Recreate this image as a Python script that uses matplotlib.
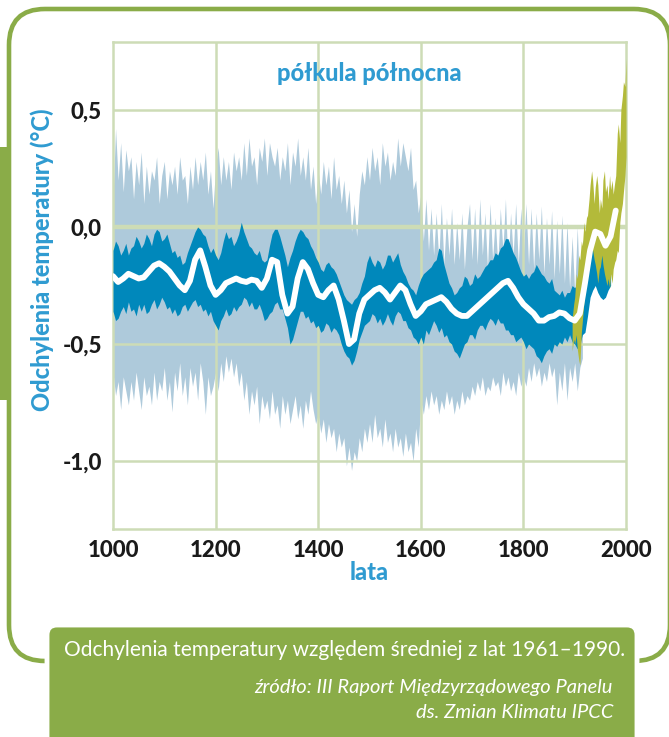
import numpy as np
import matplotlib
matplotlib.use("Agg")
import matplotlib.pyplot as plt
from matplotlib.patches import FancyBboxPatch, Rectangle

plt.rcParams['font.family'] = ['Lato', 'DejaVu Sans']

# ---- data ----
light_years = np.arange(1000, 1920, 5)
light_hi = [
    0.12, 0.42, 0.20, 0.36, 0.15, 0.33, 0.24, 0.30, 0.12, 0.28, 0.18, 0.32, 0.10, 0.26, 0.14, 0.24, 0.20, 0.30, 0.10, 0.22,
    0.28, 0.12, 0.24, 0.18, 0.26, 0.14, 0.30, 0.20, 0.22, 0.10, 0.26, 0.16, 0.30, 0.18, 0.28, 0.20, 0.32, 0.14, 0.24, 0.08,
    0.26, 0.34, 0.18, 0.30, 0.20, 0.28, 0.16, 0.32, 0.24, 0.30, 0.20, 0.36, 0.22, 0.38, 0.26, 0.30, 0.18, 0.34, 0.28, 0.38,
    0.22, 0.36, 0.30, 0.26, 0.34, 0.20, 0.30, 0.24, 0.36, 0.18, 0.32, 0.26, 0.38, 0.22, 0.30, 0.20, 0.34, 0.16, 0.26, 0.10,
    0.24, 0.14, 0.28, 0.18, 0.26, 0.12, 0.30, 0.16, 0.22, 0.10, 0.20, 0.06, 0.16, -0.02, 0.10, -0.04, 0.14, 0.24, 0.18, 0.30,
    0.20, 0.34, 0.24, 0.30, 0.18, 0.36, 0.26, 0.32, 0.20, 0.28, 0.22, 0.38, 0.26, 0.36, 0.30, 0.24, 0.34, 0.16, 0.20, 0.06,
    0.14, -0.06, 0.12, -0.10, 0.08, -0.12, 0.06, -0.14, 0.10, -0.16, 0.04, -0.12, 0.08, -0.16, 0.02, -0.14, 0.06, -0.18, 0.00, 0.10,
    -0.14, 0.08, -0.16, 0.12, -0.12, 0.06, -0.18, 0.10, -0.14, 0.04, -0.16, 0.08, -0.10, 0.12, -0.18, 0.06, -0.12, 0.10, -0.16, 0.08,
    -0.12, 0.10, -0.16, 0.08, -0.18, 0.06, -0.14, 0.09, -0.20, 0.04, -0.16, 0.07, -0.22, 0.03, -0.20, 0.05, -0.24, 0.02, -0.26, -0.04,
    -0.28, 0.00, -0.30, -0.10]
light_lo = [
    -0.62, -0.72, -0.66, -0.78, -0.64, -0.70, -0.76, -0.66, -0.74, -0.62, -0.70, -0.78, -0.64, -0.72, -0.68, -0.76, -0.62, -0.74, -0.66, -0.70,
    -0.60, -0.74, -0.66, -0.79, -0.62, -0.70, -0.58, -0.72, -0.64, -0.76, -0.60, -0.68, -0.62, -0.74, -0.58, -0.66, -0.80, -0.64, -0.72, -0.68,
    -0.62, -0.70, -0.58, -0.66, -0.55, -0.62, -0.56, -0.64, -0.58, -0.68, -0.62, -0.74, -0.66, -0.80, -0.70, -0.76, -0.68, -0.84, -0.72, -0.78,
    -0.74, -0.82, -0.70, -0.80, -0.76, -0.86, -0.72, -0.80, -0.74, -0.84, -0.78, -0.72, -0.82, -0.76, -0.86, -0.74, -0.80, -0.70, -0.78, -0.84,
    -0.80, -0.88, -0.82, -0.92, -0.84, -0.90, -0.86, -0.96, -0.88, -0.94, -0.90, -1.02, -0.94, -1.04, -0.96, -1.00, -0.90, -0.96, -0.86, -0.92,
    -0.84, -0.92, -0.80, -0.90, -0.86, -0.94, -0.82, -0.92, -0.88, -0.96, -0.86, -0.94, -0.90, -0.98, -0.88, -0.96, -0.92, -1.00, -0.86, -0.94,
    -0.74, -0.80, -0.72, -0.78, -0.70, -0.76, -0.72, -0.80, -0.74, -0.78, -0.70, -0.76, -0.72, -0.80, -0.74, -0.78, -0.70, -0.76, -0.72, -0.74,
    -0.68, -0.72, -0.66, -0.70, -0.64, -0.72, -0.68, -0.70, -0.64, -0.68, -0.66, -0.72, -0.62, -0.68, -0.64, -0.70, -0.66, -0.72, -0.62, -0.68,
    -0.64, -0.68, -0.60, -0.66, -0.58, -0.64, -0.60, -0.68, -0.62, -0.66, -0.58, -0.64, -0.60, -0.76, -0.62, -0.70, -0.58, -0.74, -0.60, -0.66,
    -0.58, -0.70, -0.60, -0.56]

dark_years = np.arange(1000, 1975, 5)
dark_hi = [
    -0.10, -0.06, -0.08, -0.12, -0.10, -0.07, -0.12, -0.09, -0.08, -0.04, -0.06, -0.09, -0.07, -0.03, -0.05, -0.08, -0.03, -0.01, -0.02, -0.06,
    -0.05, -0.03, -0.07, -0.11, -0.10, -0.13, -0.12, -0.16, -0.15, -0.11, -0.08, -0.05, -0.02, 0.00, -0.01, -0.03, -0.04, -0.08, -0.11, -0.09,
    -0.12, -0.14, -0.11, -0.06, -0.02, -0.05, -0.04, -0.08, -0.06, -0.03, 0.02, -0.02, -0.05, -0.08, -0.09, -0.11, -0.12, -0.10, -0.14, -0.15,
    -0.14, -0.08, -0.03, -0.01, -0.01, -0.04, -0.08, -0.12, -0.17, -0.13, -0.10, -0.06, -0.03, -0.01, -0.02, -0.04, -0.05, -0.08, -0.10, -0.13,
    -0.15, -0.18, -0.19, -0.16, -0.15, -0.17, -0.18, -0.20, -0.23, -0.26, -0.29, -0.31, -0.32, -0.33, -0.31, -0.30, -0.28, -0.24, -0.21, -0.15,
    -0.12, -0.15, -0.17, -0.14, -0.15, -0.18, -0.16, -0.12, -0.12, -0.15, -0.13, -0.11, -0.16, -0.19, -0.21, -0.24, -0.26, -0.27, -0.29, -0.25,
    -0.22, -0.20, -0.19, -0.18, -0.17, -0.15, -0.14, -0.09, -0.10, -0.16, -0.20, -0.24, -0.26, -0.29, -0.28, -0.26, -0.25, -0.21, -0.22, -0.25,
    -0.24, -0.20, -0.22, -0.21, -0.19, -0.17, -0.16, -0.14, -0.14, -0.11, -0.12, -0.09, -0.08, -0.05, -0.05, -0.08, -0.11, -0.13, -0.16, -0.19,
    -0.21, -0.20, -0.22, -0.20, -0.19, -0.16, -0.18, -0.20, -0.21, -0.23, -0.24, -0.22, -0.27, -0.28, -0.29, -0.27, -0.30, -0.28, -0.28, -0.25,
    -0.26, -0.24, -0.18, -0.08, -0.02, 0.00, -0.02, -0.01, 0.00, -0.03, -0.05, -0.07, -0.08, -0.09, -0.10]
dark_lo = [
    -0.36, -0.40, -0.39, -0.36, -0.34, -0.37, -0.32, -0.36, -0.35, -0.38, -0.33, -0.36, -0.33, -0.37, -0.36, -0.33, -0.31, -0.35, -0.33, -0.30,
    -0.32, -0.35, -0.34, -0.37, -0.35, -0.38, -0.37, -0.34, -0.33, -0.36, -0.34, -0.32, -0.31, -0.34, -0.33, -0.36, -0.35, -0.38, -0.36, -0.40,
    -0.42, -0.44, -0.40, -0.38, -0.35, -0.38, -0.37, -0.34, -0.36, -0.34, -0.33, -0.30, -0.31, -0.34, -0.32, -0.35, -0.35, -0.33, -0.36, -0.40,
    -0.39, -0.37, -0.36, -0.33, -0.32, -0.35, -0.35, -0.39, -0.43, -0.50, -0.48, -0.44, -0.40, -0.36, -0.36, -0.39, -0.38, -0.41, -0.40, -0.43,
    -0.42, -0.45, -0.44, -0.41, -0.42, -0.45, -0.43, -0.44, -0.46, -0.50, -0.53, -0.55, -0.56, -0.59, -0.57, -0.53, -0.48, -0.45, -0.42, -0.41,
    -0.40, -0.37, -0.38, -0.41, -0.39, -0.42, -0.40, -0.37, -0.40, -0.42, -0.38, -0.36, -0.37, -0.40, -0.40, -0.43, -0.44, -0.47, -0.48, -0.50,
    -0.47, -0.50, -0.44, -0.46, -0.43, -0.40, -0.42, -0.45, -0.43, -0.47, -0.46, -0.49, -0.50, -0.53, -0.54, -0.56, -0.53, -0.50, -0.49, -0.46,
    -0.46, -0.48, -0.44, -0.42, -0.42, -0.44, -0.41, -0.39, -0.40, -0.42, -0.39, -0.41, -0.41, -0.44, -0.44, -0.46, -0.46, -0.49, -0.48, -0.47,
    -0.49, -0.52, -0.50, -0.51, -0.52, -0.55, -0.56, -0.58, -0.55, -0.53, -0.52, -0.54, -0.50, -0.51, -0.49, -0.50, -0.47, -0.49, -0.46, -0.49,
    -0.50, -0.52, -0.50, -0.46, -0.45, -0.38, -0.30, -0.27, -0.25, -0.28, -0.30, -0.31, -0.30, -0.27, -0.25]

smooth_years = np.arange(1000, 1990, 10)
smooth_vals = [
    -0.21, -0.235, -0.22, -0.20, -0.21, -0.22, -0.215, -0.19, -0.165, -0.155,
    -0.17, -0.19, -0.22, -0.25, -0.27, -0.23, -0.14, -0.10, -0.17, -0.25,
    -0.29, -0.27, -0.24, -0.23, -0.22, -0.23, -0.235, -0.225, -0.23, -0.26,
    -0.22, -0.14, -0.15, -0.29, -0.37, -0.34, -0.22, -0.15, -0.18, -0.24,
    -0.29, -0.30, -0.27, -0.25, -0.31, -0.40, -0.50, -0.48, -0.37, -0.31,
    -0.29, -0.27, -0.26, -0.28, -0.31, -0.28, -0.25, -0.27, -0.33, -0.38,
    -0.36, -0.33, -0.32, -0.31, -0.30, -0.32, -0.35, -0.37, -0.38, -0.38,
    -0.36, -0.34, -0.32, -0.30, -0.28, -0.26, -0.24, -0.23, -0.26, -0.30,
    -0.33, -0.35, -0.37, -0.40, -0.40, -0.385, -0.38, -0.365, -0.37, -0.39,
    -0.40, -0.37, -0.24, -0.10, -0.02, -0.03, -0.08, -0.04, 0.07]

instr_years = [1895, 1898, 1900, 1903, 1905, 1908, 1910, 1913, 1915, 1918, 1920, 1923, 1925, 1928,
               1930, 1933, 1935, 1938, 1940, 1943, 1945, 1948, 1950, 1953, 1955, 1958, 1960, 1963,
               1965, 1968, 1970, 1973, 1975, 1978, 1980, 1983, 1985, 1988, 1990, 1993, 1995, 1998, 2000]
instr_hi = [-0.39, -0.33, -0.30, -0.20, -0.22, -0.12, -0.14, -0.06, -0.08, 0.02, -0.02, 0.04, 0.05, 0.12,
            0.18, 0.24, 0.20, 0.10, 0.17, 0.22, 0.18, 0.06, 0.12, 0.08, 0.20, 0.24, 0.15, 0.18,
            0.12, 0.22, 0.16, 0.20, 0.14, 0.19, 0.22, 0.40, 0.44, 0.36, 0.50, 0.56, 0.62, 0.60, 0.72]
instr_lo = [-0.53, -0.48, -0.50, -0.46, -0.52, -0.57, -0.59, -0.45, -0.40, -0.32, -0.28, -0.20, -0.14, -0.13,
            -0.11, -0.08, -0.10, -0.14, -0.16, -0.20, -0.24, -0.18, -0.17, -0.12, -0.16, -0.20, -0.22, -0.25,
            -0.22, -0.26, -0.20, -0.24, -0.18, -0.15, -0.14, -0.10, -0.11, 0.02, 0.06, 0.10, 0.15, 0.22, 0.30]

xticks = [1000, 1200, 1400, 1600, 1800, 2000]
yticks = [0.5, 0.0, -0.5, -1.0]
ytick_labels = ['0,5', '0,0', '-0,5', '-1,0']

# colours
GREEN = '#8aac48'
GRID = '#cddcb6'
LIGHT = '#aecadb'
DARK = '#0088bb'
OLIVE = '#b3ba3a'
BLUE_TXT = '#2f9bd1'

W, H = 669, 737
fig = plt.figure(figsize=(W / 100, H / 100), dpi=100)

# background layer in pixel coordinates
bg = fig.add_axes([0, 0, 1, 1], zorder=0)
bg.set_xlim(0, W)
bg.set_ylim(H, 0)
bg.axis('off')
bg.add_patch(FancyBboxPatch((9, 9), 661, 652, boxstyle="round,pad=0,rounding_size=36",
                            fill=False, ec=GREEN, lw=3.3))
bg.add_patch(Rectangle((0, 147), 10, 253, color=GREEN, lw=0))
bg.add_patch(FancyBboxPatch((47, 625), 590, 150, boxstyle="round,pad=0,rounding_size=10",
                            fc=GREEN, ec='white', lw=3.5))
bg.text(64, 650, 'Odchylenia temperatury względem średniej z lat 1961–1990.',
        color='white', fontsize=15, ha='left', va='center')
bg.text(613, 688, 'źródło: III Raport Międzyrządowego Panelu',
        color='white', fontsize=14.5, style='italic', ha='right', va='center')
bg.text(613, 713, 'ds. Zmian Klimatu IPCC',
        color='white', fontsize=14.5, style='italic', ha='right', va='center')

# main chart
ax = fig.add_axes([113 / W, 1 - 529 / H, 513 / W, 487 / H], zorder=1)
ax.set_xlim(1000, 2000)
ax.set_ylim(-1.29, 0.79)

ax.fill_between(light_years, light_lo, light_hi, color=LIGHT, lw=0, zorder=1)
for yv in yticks:
    ax.axhline(yv, color=GRID, lw=3.2 if yv == 0 else 1.8, zorder=2)
for xv in xticks[1:-1]:
    ax.axvline(xv, color=GRID, lw=1.8, zorder=2)
ax.fill_between(dark_years, dark_lo, dark_hi, color=DARK, lw=0, zorder=3)
ax.fill_between(instr_years, instr_lo, instr_hi, color=OLIVE, lw=0, zorder=4)
ax.plot(smooth_years, smooth_vals, color='white', lw=4.2, solid_capstyle='round',
        solid_joinstyle='round', zorder=5)

for s in ax.spines.values():
    s.set_color(GRID)
    s.set_linewidth(1.8)

ax.set_xticks(xticks)
ax.set_xticklabels([str(v) for v in xticks])
ax.set_yticks(yticks)
ax.set_yticklabels(ytick_labels)
ax.tick_params(length=0, pad=8, labelsize=16, labelcolor='#1a1a1a')
for lab in ax.get_xticklabels() + ax.get_yticklabels():
    lab.set_fontweight('black')

ax.set_ylabel('Odchylenia temperatury (°C)', color=BLUE_TXT, fontsize=17, fontweight='black')
ax.yaxis.set_label_coords(-0.115, 0.552)
ax.set_xlabel('lata', color=BLUE_TXT, fontsize=17, fontweight='black')
ax.xaxis.set_label_coords(0.5, -0.065)

ax.text(0.5, 0.936, 'półkula północna', transform=ax.transAxes, color=BLUE_TXT,
        fontsize=17, fontweight='black', ha='center', va='center', zorder=6)

fig.savefig('out.png', dpi=100)
